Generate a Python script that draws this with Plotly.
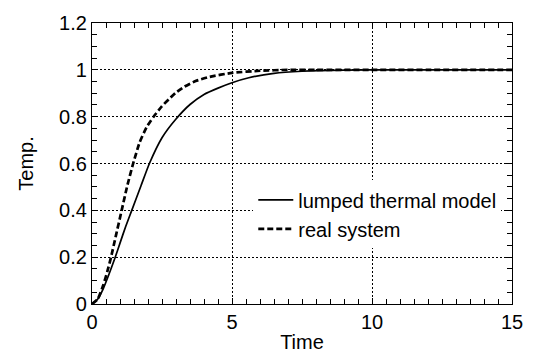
import plotly.graph_objects as go

# Data
t_model = [0, 0.2, 0.4, 0.6, 0.83, 1.0, 1.2, 1.42, 1.75, 2.05, 2.5, 3.0, 3.5, 4.0, 4.5, 5.0, 5.6, 6.5, 7.5, 9, 11, 13, 15]
y_model = [0, 0.02, 0.065, 0.125, 0.2, 0.26, 0.33, 0.4, 0.505, 0.6, 0.71, 0.79, 0.852, 0.895, 0.922, 0.945, 0.966, 0.985, 0.994, 0.999, 1.0, 1.0, 1.0]

t_real = [0, 0.2, 0.4, 0.55, 0.68, 0.85, 1.06, 1.25, 1.47, 1.7, 1.95, 2.2, 2.5, 2.75, 3.0, 3.3, 3.7, 4.2, 5.0, 6.0, 7, 8, 10, 12, 15]
y_real = [0, 0.02, 0.08, 0.14, 0.2, 0.29, 0.4, 0.5, 0.6, 0.69, 0.755, 0.80, 0.845, 0.875, 0.903, 0.928, 0.952, 0.97, 0.987, 0.996, 1.0, 1.0, 1.0, 1.0, 1.0]

FONT = "Liberation Sans, Arial, sans-serif"
TXT = dict(family=FONT, size=20, color="black")

fig = go.Figure()
fig.add_trace(go.Scatter(x=t_model, y=y_model, mode="lines", name="lumped thermal model",
                         line=dict(color="black", width=1.7, shape="spline", smoothing=0.5)))
fig.add_trace(go.Scatter(x=t_real, y=y_real, mode="lines", name="real system",
                         line=dict(color="black", width=2.7, dash="6px,3px", shape="spline", smoothing=0.5)))

axis_common = dict(
    showline=True, linecolor="black", linewidth=1.3, mirror="ticks",
    ticks="inside", ticklen=6, tickcolor="black", tickwidth=1.2,
    showgrid=True, gridcolor="black", gridwidth=1, griddash="2px,2px",
    zeroline=False,
    tickfont=TXT,
)

fig.update_xaxes(range=[0, 15], tickmode="linear", tick0=0, dtick=5,
                 minor=dict(tickmode="linear", tick0=0, dtick=0.5, ticks="inside", ticklen=5,
                            tickwidth=1.3, tickcolor="black", showgrid=False),
                 title=dict(text="Time", font=TXT, standoff=2),
                 **axis_common)
fig.update_yaxes(range=[0, 1.2], tickmode="linear", tick0=0, dtick=0.2,
                 minor=dict(tickmode="linear", tick0=0, dtick=0.05, ticks="inside", ticklen=5,
                            tickwidth=1.3, tickcolor="black", showgrid=False),
                 title=dict(text="Temp.", font=TXT, standoff=20),
                 **axis_common)

fig.update_layout(
    width=535, height=361,
    margin=dict(l=92, r=21, t=16, b=52),
    paper_bgcolor="white", plot_bgcolor="white",
    showlegend=True,
    legend=dict(x=0.384, y=0.44, xanchor="left", yanchor="top",
                bgcolor="white", borderwidth=0,
                font=TXT, tracegroupgap=0, itemwidth=35),
)

fig.write_html("out.html")
